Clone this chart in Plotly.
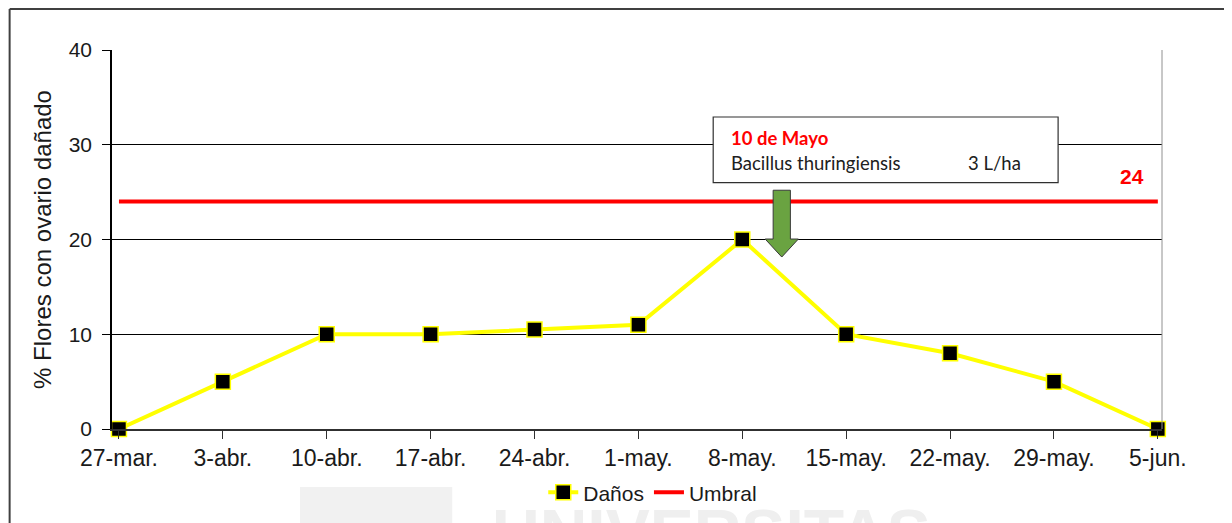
import plotly.graph_objects as go

fechas = ["27-mar.", "3-abr.", "10-abr.", "17-abr.", "24-abr.", "1-may.",
          "8-may.", "15-may.", "22-may.", "29-may.", "5-jun."]
danos = [0, 5, 10, 10, 10.5, 11, 20, 10, 8, 5, 0]
umbral_valor = 24
y_ticks = [0, 10, 20, 30, 40]

idx = list(range(len(fechas)))
FONT = "Liberation Sans, Arial, sans-serif"
BOXFONT = "Lato, Open Sans, sans-serif"

fig = go.Figure()
fig.add_trace(go.Scatter(
    x=idx, y=danos, name="Daños", mode="lines+markers",
    line=dict(color="#ffff00", width=4),
    marker=dict(symbol="square", size=15, color="black",
                line=dict(color="#ffff00", width=1.5)),
    cliponaxis=False,
))
fig.add_trace(go.Scatter(
    x=[idx[0], idx[-1]], y=[umbral_valor, umbral_valor], name="Umbral",
    mode="lines", line=dict(color="#ff0000", width=4), cliponaxis=False,
))

shapes = []
# right plot border
shapes.append(dict(type="line", xref="paper", yref="paper", x0=1, x1=1, y0=0, y1=1,
                   line=dict(color="#909090", width=1)))
# outer frame (left + top), kept just inside the figure
shapes.append(dict(type="line", xref="paper", yref="paper", x0=-0.0975, x1=-0.0975,
                   y0=-0.3, y1=1.108, line=dict(color="#404040", width=2)))
shapes.append(dict(type="line", xref="paper", yref="paper", x0=-0.0975, x1=1.08,
                   y0=1.108, y1=1.108, line=dict(color="#404040", width=2)))
# watermark grey block
shapes.append(dict(type="rect", xref="paper", yref="paper", x0=0.179, x1=0.324,
                   y0=-0.26, y1=-0.153, fillcolor="#f1f1f1", line=dict(width=0), layer="below"))
# annotation box
shapes.append(dict(type="rect", xref="x", yref="y", x0=5.72, x1=9.04, y0=26.0, y1=32.93,
                   fillcolor="white", line=dict(color="#303030", width=1.2)))
# green arrow (pointing down)
xc = 6.38
sw = 0.083  # half shaft width
hw = 0.16   # half head width
path = (f"M {xc-sw},25.2 L {xc+sw},25.2 L {xc+sw},20.05 L {xc+hw},20.05 "
        f"L {xc},18.15 L {xc-hw},20.05 L {xc-sw},20.05 Z")
shapes.append(dict(type="path", xref="x", yref="y", path=path,
                   fillcolor="#6aa341", line=dict(color="#3a3a3a", width=1)))

annotations = [
    dict(x=5.87, y=30.71, xref="x", yref="y", text="<b>10 de Mayo</b>", showarrow=False,
         xanchor="left", yanchor="middle", font=dict(family=BOXFONT, size=18.5, color="#ff0000")),
    dict(x=5.87, y=28.07, xref="x", yref="y", text="Bacillus thuringiensis", showarrow=False,
         xanchor="left", yanchor="middle", font=dict(family=BOXFONT, size=18.5, color="#202020")),
    dict(x=8.70, y=28.07, xref="x", yref="y", text="3 L/ha", showarrow=False,
         xanchor="right", yanchor="middle", font=dict(family=BOXFONT, size=18.5, color="#202020")),
    dict(x=9.75, y=26.6, xref="x", yref="y", text="<b>24</b>", showarrow=False,
         xanchor="center", yanchor="middle", font=dict(family=FONT, size=21, color="#ff0000")),
    dict(x=0.36, y=-0.172, xref="paper", yref="paper", text="<b>UNIVERSITAS</b>", showarrow=False,
         xanchor="left", yanchor="top", font=dict(family=FONT, size=66, color="#efefef")),
]

# the page body adds an 8px offset; margins compensate so the plot lands at
# x 112..1162, y 50..429 on screen
fig.update_layout(
    width=1232, height=523,
    margin=dict(l=104, r=78, t=42, b=102, autoexpand=False),
    paper_bgcolor="white", plot_bgcolor="white",
    font=dict(family=FONT, size=19, color="#1a1a1a"),
    showlegend=True,
    legend=dict(orientation="h", x=0.515, xanchor="center", y=-0.114, yanchor="top",
                font=dict(family=FONT, size=21, color="#1a1a1a"),
                bgcolor="rgba(0,0,0,0)"),
    shapes=shapes,
    annotations=annotations,
)
fig.update_xaxes(
    range=[-0.067, 10.04], tickmode="array", tickvals=idx, ticktext=fechas,
    showgrid=False, showline=True, linecolor="#303030", linewidth=1.5,
    ticks="outside", ticklen=8, tickcolor="#303030", zeroline=False,
    tickfont=dict(size=23), automargin=False,
)
fig.update_yaxes(
    range=[0, 40], tickmode="array", tickvals=y_ticks,
    showgrid=True, gridcolor="black", gridwidth=1,
    showline=True, linecolor="black", linewidth=1.5,
    ticks="outside", ticklen=8, tickcolor="black", zeroline=False,
    tickfont=dict(size=21), automargin=False, ticklabelstandoff=6,
    title=dict(text="% Flores con ovario dañado", font=dict(size=24), standoff=10),
)

fig.write_html("out.html")
